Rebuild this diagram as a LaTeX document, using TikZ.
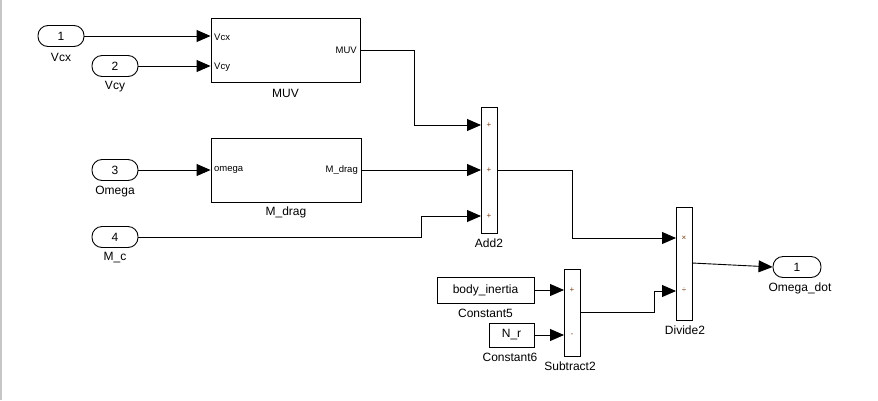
\documentclass[tikz,border=0pt]{standalone}
\usepackage{fontspec}
\setmainfont{Liberation Sans}
\usetikzlibrary{arrows.meta}
\definecolor{signc}{RGB}{120,60,20}
\begin{document}
\begin{tikzpicture}[x=1pt,y=-1pt,
 wire/.style={line width=0.9pt},
 arr/.style={wire,-{Triangle[length=14pt,width=12pt]}},
 port/.style={draw,line width=0.9pt,rounded corners=10pt,minimum width=46pt,minimum height=21pt,inner sep=0pt,font=\fontsize{12}{12}\selectfont},
 blk/.style={draw,line width=0.9pt,inner sep=0pt},
 cst/.style={blk,font=\fontsize{12}{12}\selectfont},
 lbl/.style={font=\fontsize{12}{12}\selectfont,inner sep=0pt},
 plbl/.style={font=\fontsize{9.5}{9.5}\selectfont,inner sep=0pt},
 sgn/.style={font=\fontsize{8}{8}\selectfont,inner sep=0pt,text=signc},
]
\useasboundingbox (0,0) rectangle (878,400);
\fill[gray!45] (0,0) rectangle (2,400);

% inports
\node[port] (in1) at (61,36) {1};
\node[lbl] (lin1) at (61,57) {Vcx};
\node[port] (in2) at (115,66) {2};
\node[lbl] (lin2) at (115,87) {Vcy};
\node[port] (in3) at (115,170) {3};
\node[lbl] (lin3) at (115,192) {Omega};
\node[port] (in4) at (115,237) {4};
\node[lbl] (lin4) at (115,258) {M\_c};

% subsystems
\node[blk,minimum width=149pt,minimum height=64pt] (muv) at (285.5,50) {};
\node[lbl] (lmuv) at (285.5,93) {MUV};
\node[plbl,anchor=west] (pvcx) at (214,37) {Vcx};
\node[plbl,anchor=west] (pvcy) at (214,67) {Vcy};
\node[plbl,anchor=east] (pmuv) at (357,50) {MUV};

\node[blk,minimum width=150pt,minimum height=64pt] (mdrag) at (286,170) {};
\node[lbl] (lmdrag) at (286,212) {M\_drag};
\node[plbl,anchor=west] (pom) at (214,170) {omega};
\node[plbl,anchor=east] (pmd) at (358,170) {M\_drag};

% Add2
\node[blk,minimum width=16pt,minimum height=126pt] (add) at (489,170) {};
\node[lbl] (ladd) at (489,243) {Add2};
\node[sgn] (as1) at (489,125) {+};
\node[sgn] (as2) at (489,170) {+};
\node[sgn] (as3) at (489,216) {+};
\coordinate (a1) at (481,125);
\coordinate (a2) at (481,170);
\coordinate (a3) at (481,216);

% constants and Subtract2
\node[cst,minimum width=97pt,minimum height=26pt] (bi) at (485.5,290) {body\_inertia};
\node[lbl] (lbi) at (485.5,313) {Constant5};
\node[cst,minimum width=45pt,minimum height=24pt] (nr) at (511.5,335) {N\_r};
\node[lbl] (lnr) at (510,357) {Constant6};
\node[blk,minimum width=16pt,minimum height=87pt] (sub) at (572,312.5) {};
\node[lbl] (lsub) at (570,366) {Subtract2};
\node[sgn] (ss1) at (572,290) {+};
\node[sgn] (ss2) at (572,335) {-};
\coordinate (s1) at (564,290);
\coordinate (s2) at (564,335);

% Divide2
\node[blk,minimum width=16pt,minimum height=113pt] (div) at (684,263.5) {};
\node[lbl] (ldiv) at (685,330) {Divide2};
\node[sgn] (ds1) at (684,238) {×};
\node[sgn] (ds2) at (684,290) {÷};
\coordinate (d1) at (676,238);
\coordinate (d2) at (676,291);
\coordinate (dout) at (692,263);

% outport
\node[port,minimum width=48pt] (out1) at (797,267) {1};
\node[lbl] (lout1) at (800,288) {Omega\_dot};

% wires
\draw[arr] (in1.east) -- (in1.east -| muv.west);
\draw[arr] (in2.east) -- (in2.east -| muv.west);
\draw[arr] (in3.east) -- (in3.east -| mdrag.west);
\draw[arr] (muv.east) -| ([xshift=-67pt]a1) -- (a1);
\draw[arr] (mdrag.east) -- (a2);
\draw[arr] (in4.east) -| ([xshift=-60pt]a3) -- (a3);
\draw[arr] (add.east) -| ([xshift=-104pt]d1) -- (d1);
\draw[arr] (bi.east) -- (s1);
\draw[arr] (nr.east) -- (s2);
\draw[arr] (sub.east) -| ([xshift=-22pt]d2) -- (d2);
\draw[arr] (dout) -- (out1.west);
\end{tikzpicture}
\end{document}
